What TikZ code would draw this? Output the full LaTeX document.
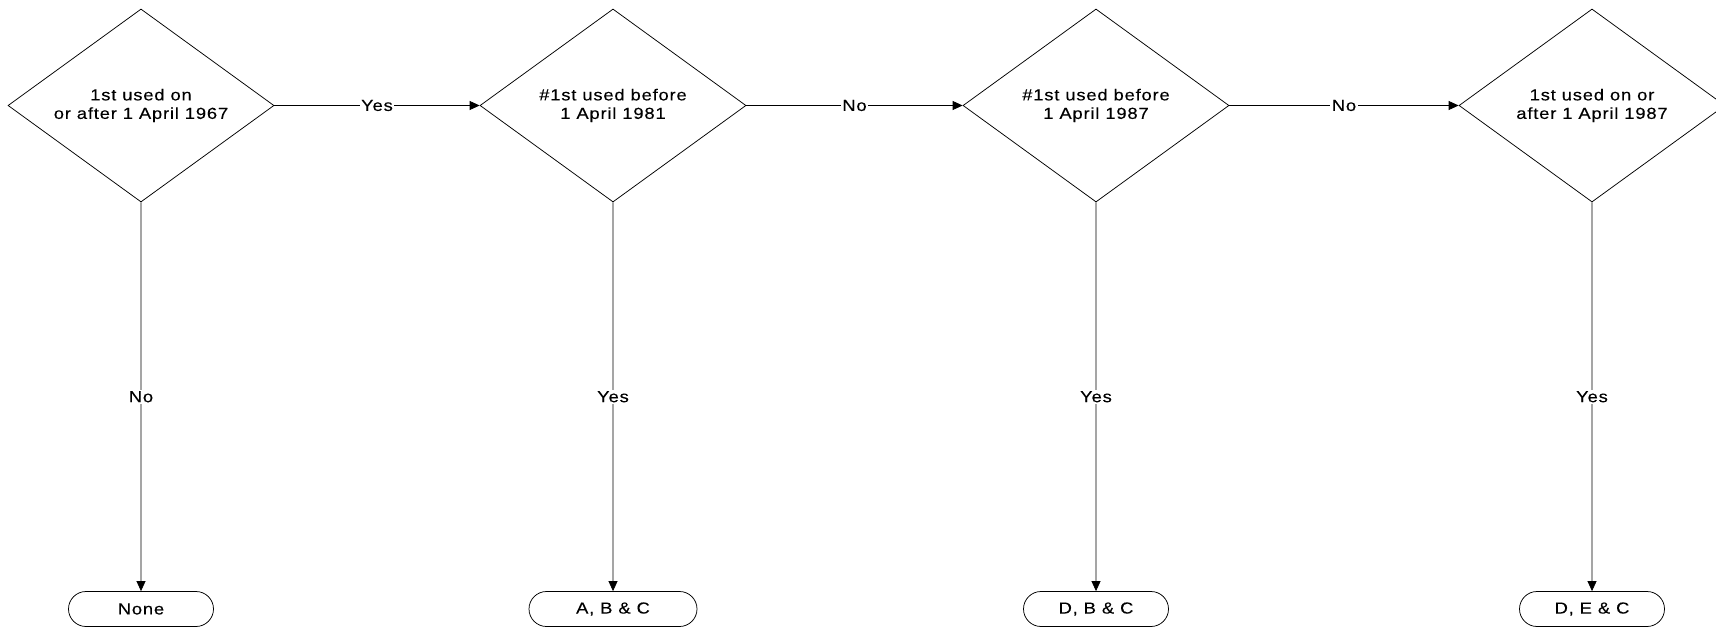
\documentclass[tikz,border=0pt]{standalone}
\usepackage{fontspec}
\setmainfont{Liberation Sans}[FakeStretch=1.15,LetterSpace=5,FakeBold=0.15]
\usetikzlibrary{arrows.meta,shapes,positioning}
\tikzset{
	decision/.style={diamond,draw=black,line width=0.75pt,shape aspect=1.38,minimum width=266pt,minimum height=193pt,inner sep=0pt,align=center},
	outcome/.style={rounded rectangle,draw=black,line width=0.75pt,minimum width=145pt,minimum height=35pt,inner sep=0pt},
	answer/.style={fill=white,inner sep=1.5pt}}

\begin{document}
\begin{tikzpicture}[-{Triangle[length=10pt,width=9pt]},line width=0.75pt,
		on grid,node distance=503.5pt,font=\fontsize{16pt}{18.5pt}\selectfont]
		
		\useasboundingbox (0,0) rectangle (1716pt,-628pt);
		
		\node[decision] at (141pt,-105.5pt) (q1967) {1st used on\\or after 1 April 1967};
		\node[decision][right=472pt of q1967] (q1981) {\#1st used before\\1 April 1981};
		\node[decision][right=483pt of q1981] (q1987) {\#1st used before\\1 April 1987};
		\node[decision][right=496pt of q1987] (q1987b) {1st used on or\\after 1 April 1987};
		
		\node[outcome][below of = q1967] (none) {None};
		\node[outcome, minimum width=168pt][below of = q1981] (abc) {A, B \& C};
		\node[outcome][below of = q1987] (dbc) {D, B \& C};
		\node[outcome][below of = q1987b] (dec) {D, E \& C};
		
		\path
		(q1967) edge node[answer] {Yes} (q1981)
		(q1981) edge node[answer] {No} (q1987)
		(q1987) edge node[answer] {No} (q1987b)
		
		(q1967) edge node[answer] {No} (none)
		(q1981) edge node[answer] {Yes} (abc)
		(q1987) edge node[answer] {Yes} (dbc)
		(q1987b) edge node[answer] {Yes} (dec);
		
	\end{tikzpicture}
\end{document}
